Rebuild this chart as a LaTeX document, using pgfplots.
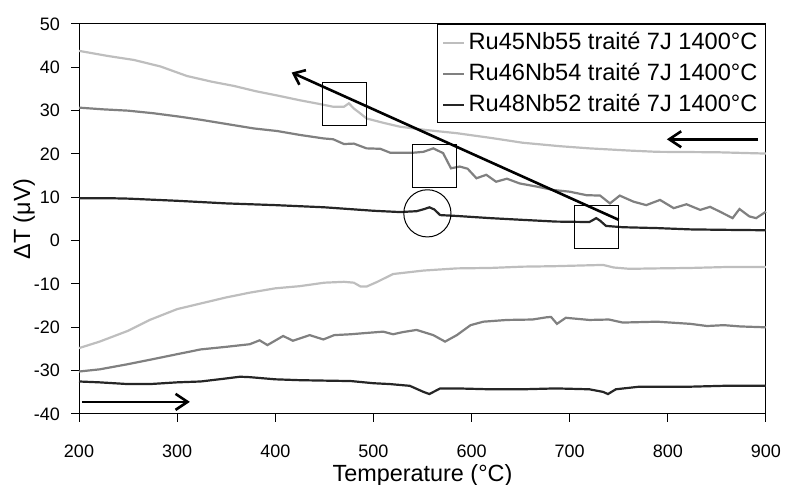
\documentclass[border=0pt]{standalone}
\usepackage{pgfplots}
\pgfplotsset{compat=1.18}
\usepackage{fontspec}
\setmainfont{Liberation Sans}
\usetikzlibrary{arrows.meta}

\definecolor{lightc}{RGB}{190,190,190}
\definecolor{midc}{RGB}{128,128,128}
\definecolor{darkc}{RGB}{38,38,38}

\begin{document}
\begin{tikzpicture}
\begin{axis}[
    scale only axis,
    width=343.5pt, height=195pt,
    xmin=200, xmax=900, ymin=-40, ymax=50,
    xtick={200,300,...,900}, ytick={-40,-30,...,50},
    tick pos=left, tick align=outside,
    major tick length=4pt,
    axis line style={black, line width=0.5pt},
    tick style={black, line width=0.5pt},
    /pgf/number format/assume math mode=true,
    ticklabel style={font=\fontsize{9}{11}\selectfont},
    xticklabel style={yshift=-8pt},
    yticklabel style={xshift=-2pt},
    xlabel={Temperature (°C)},
    ylabel={ΔT (μV)},
    label style={font=\fontsize{11.7}{14}\selectfont},
    xlabel style={at={(axis description cs:0.5,-0.157)}, anchor=center},
    ylabel style={at={(axis description cs:-0.08,0.5)}, anchor=center},
    legend style={at={(1,1)}, anchor=north east, draw=black, line width=0.5pt,
        font=\fontsize{11.8}{13.5}\selectfont, row sep=1.3pt, inner sep=2pt},
    legend cell align=left,
    legend image code/.code={\draw[#1] (0cm,0cm) -- (0.36cm,0cm);},
    every axis plot/.append style={line width=1.1pt},
    clip=false,
]
% cooling runs
\addplot[lightc] coordinates {
(200,43.8)(230,42.6)(256,41.7)(283,40.2)(310,38.0)(335,36.7)(358,35.7)(380,34.5)
(402,33.5)(425,32.4)(446,31.5)(459,30.9)(470,30.9)(475,31.7)(480,30.5)(487,29.3)
(493,28.2)(510,27.2)(527,26.3)(555,25.5)(585,24.8)(620,23.7)(652,22.6)(690,21.8)
(720,21.3)(760,20.8)(789,20.5)(850,20.4)(900,20.1)};
\addlegendentry{Ru45Nb55 traité 7J 1400°C}
\addplot[midc] coordinates {
(200,30.7)(225,30.3)(250,30.0)(276,29.4)(303,28.6)(324,27.9)(351,26.9)(378,25.9)
(402,25.3)(425,24.4)(449,23.6)(459,23.4)(470,22.3)(480,22.4)(493,21.3)(507,21.2)
(517,20.3)(527,20.3)(541,20.3)(551,20.5)(561,21.3)(571,20.2)(579,16.7)(588,17.1)
(596,16.6)(605,14.4)(615,15.2)(625,13.6)(636,14.3)(649,13.2)(666,12.5)(683,11.7)
(700,11.3)(717,10.5)(731,10.4)(741,8.6)(751,10.4)(765,9.0)(778,8.2)(792,9.4)
(806,7.5)(819,8.4)(833,7.1)(843,7.8)(853,6.7)(866,5.2)(873,7.3)(883,5.6)(890,5.2)(900,6.7)};
\addlegendentry{Ru46Nb54 traité 7J 1400°C}
\addplot[darkc] coordinates {
(200,9.8)(230,9.8)(250,9.7)(300,9.2)(350,8.6)(400,8.2)(450,7.7)(500,6.9)(527,6.6)
(544,6.8)(552,7.3)(557,7.7)(562,7.2)(568,5.9)(585,5.7)(619,5.2)(652,4.8)(686,4.4)
(720,4.3)(724,4.8)(727,5.2)(731,4.6)(737,3.4)(754,3.1)(789,2.9)(823,2.6)(857,2.5)(900,2.4)};
\addlegendentry{Ru48Nb52 traité 7J 1400°C}
% heating runs
\addplot[lightc, forget plot] coordinates {
(200,-24.8)(221,-23.3)(250,-20.8)(272,-18.3)(300,-15.8)(324,-14.5)(350,-13.1)(374,-12.0)
(400,-11.0)(425,-10.5)(450,-9.7)(470,-9.5)(480,-9.7)(487,-10.6)(493,-10.6)(504,-9.5)
(520,-7.7)(551,-6.9)(585,-6.4)(619,-6.3)(652,-6.0)(683,-5.9)(734,-5.6)(745,-6.2)
(761,-6.5)(789,-6.4)(823,-6.3)(857,-6.1)(900,-6.1)};
\addplot[midc, forget plot] coordinates {
(200,-30.2)(221,-29.7)(250,-28.5)(272,-27.5)(300,-26.2)(324,-25.1)(350,-24.5)(374,-23.9)
(384,-23.0)(392,-24.1)(408,-22.0)(418,-23.1)(435,-21.8)(449,-22.8)(460,-21.8)(477,-21.6)
(493,-21.3)(510,-21.0)(520,-21.6)(530,-21.1)(544,-20.6)(561,-21.8)(573,-23.3)(585,-21.8)
(599,-19.5)(612,-18.7)(636,-18.3)(662,-18.2)(676,-17.7)(681,-17.6)(687,-19.2)(696,-17.8)
(720,-18.3)(740,-18.2)(754,-18.9)(789,-18.7)(823,-19.2)(840,-19.7)(857,-19.5)(874,-19.8)(900,-20.0)};
\addplot[darkc, forget plot] coordinates {
(200,-32.5)(221,-32.7)(250,-33.1)(272,-33.1)(300,-32.7)(324,-32.5)(350,-31.8)(364,-31.4)
(374,-31.5)(400,-32.0)(425,-32.2)(450,-32.3)(477,-32.4)(500,-32.9)(517,-33.1)(537,-33.5)
(551,-34.9)(557,-35.4)(568,-34.1)(585,-34.1)(619,-34.3)(652,-34.3)(686,-34.1)(720,-34.3)
(734,-34.9)(739,-35.4)(747,-34.3)(771,-33.7)(823,-33.7)(857,-33.5)(900,-33.5)};

% annotations
\draw[line width=0.5pt] (axis cs:448,26.5) rectangle (axis cs:493,36.5);
\draw[line width=0.5pt] (axis cs:540,12.3) rectangle (axis cs:585,22.3);
\draw[line width=0.5pt] (axis cs:705,-1.8) rectangle (axis cs:750,8.2);
\draw[line width=0.5pt] (axis cs:555,6.3) circle[radius=11.8pt];
\draw[line width=1.3pt, -{Straight Barb[length=5pt,width=8pt]}] (axis cs:750,4.8) -- (axis cs:416.7,38.8);
\draw[line width=1.3pt, -{Straight Barb[length=6pt,width=8pt]}] (axis cs:892,23.4) -- (axis cs:799,23.4);
\draw[line width=1.3pt, -{Straight Barb[length=6pt,width=8pt]}] (axis cs:203,-37.2) -- (axis cs:313,-37.2);

\coordinate (bl) at (axis cs:119.5,-56.2);
\coordinate (tr) at (axis cs:920.4,55.54);
\end{axis}
\pgfresetboundingbox
\useasboundingbox (bl) rectangle (tr);
\end{tikzpicture}
\end{document}
